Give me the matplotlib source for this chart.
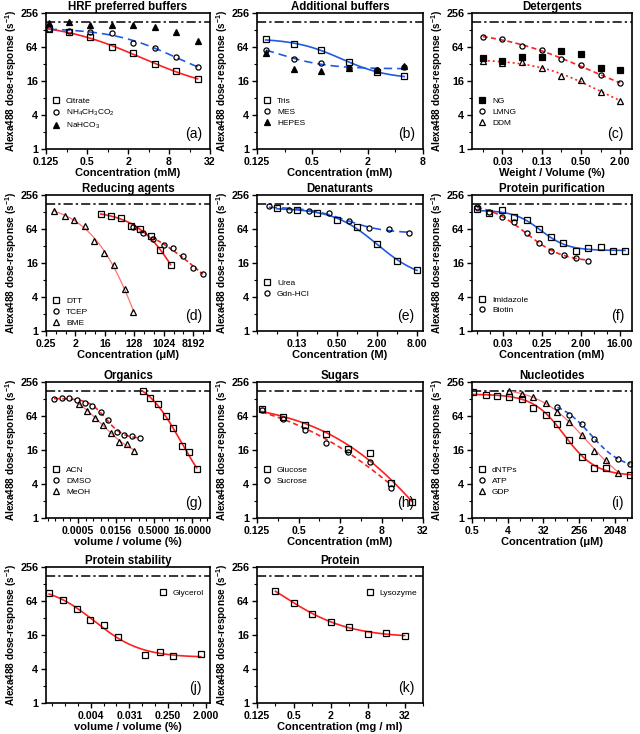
import numpy as np
import matplotlib
matplotlib.use('Agg')
import matplotlib.pyplot as plt
from matplotlib.ticker import NullFormatter

plt.rcParams['font.family'] = ['Liberation Sans', 'DejaVu Sans']
plt.rcParams['mathtext.default'] = 'regular'

# reference (no additive) level
ref_level = 176

# (a) HRF preferred buffers
a_conc = [0.137, 0.27, 0.55, 1.15, 2.4, 5.0, 10.1, 21.0]
a_citrate = [132, 116, 95, 64, 49.5, 31.6, 23.8, 17.4]
a_nh4 = [133, 123, 119, 112, 76, 62, 42.6, 28.3]
a_nahco3 = [168, 175, 159, 159, 157, 146, 116, 81]

# (b) Additional buffers
b_conc = [0.156, 0.3125, 0.625, 1.25, 2.5, 5.0]
b_tris = [87.6, 71.5, 56.6, 35.2, 22.8, 19.4]
b_mes = [56.6, 39.7, 32.9, 27.5, 25.3, 28]
b_hepes = [49.6, 26, 24, 26.9, 25, 29.5]

# (c) Detergents
c_wv = [0.0156, 0.03125, 0.0625, 0.125, 0.25, 0.5, 1.0, 2.0]
c_ng = [40.4, 36.2, 42, 43, 55, 47.5, 27.5, 25]
c_lmng = [97, 88.7, 66.6, 56.6, 38.8, 30.3, 20.2, 14.9]
c_ddm = [36.7, 33.8, 34.3, 27.5, 19.6, 16.7, 10.2, 7.2]

# (d) Reducing agents
d_dtt_conc = [12, 25, 49, 100, 193, 400, 790, 1640]
d_dtt = [116, 110, 99, 73, 64, 48, 27, 14.7]
d_tcep_conc = [120, 240, 480, 1000, 2000, 4000, 8000, 16000]
d_tcep = [68.6, 53.6, 42, 33.4, 29.1, 21.3, 12.9, 10.2]
d_bme_conc = [0.45, 0.96, 1.8, 3.8, 7.6, 15.5, 31, 64, 120]
d_bme = [133, 109, 92.4, 72.4, 39.2, 24.3, 14.7, 5.5, 2.2]

# (e) Denaturants
e_urea_conc = [0.0625, 0.125, 0.25, 0.5, 1, 2, 4, 8]
e_urea = [149, 139, 124, 92, 70, 34.7, 17.6, 12]
e_gdn_conc = [0.047, 0.094, 0.1875, 0.375, 0.75, 1.5, 3, 6]
e_gdn = [165, 139, 133, 121, 89, 66, 63, 55]

# (f) Protein purification
f_imid_conc = [0.0077, 0.0148, 0.029, 0.057, 0.11, 0.21, 0.40, 0.78, 1.5, 2.9, 5.7, 10.8, 20.8]
f_imid = [143, 121, 139, 106, 92, 63, 45.6, 36, 26.4, 29, 30.3, 26, 26]
f_biotin_conc = [0.0079, 0.015, 0.029, 0.057, 0.11, 0.21, 0.41, 0.79, 1.5, 2.9]
f_biotin = [159, 130, 103, 84, 54, 35.7, 26, 22, 20, 17.6]

# (g) Organics
g_acn_vv = [0.178, 0.35, 0.70, 1.45, 2.9, 6.2, 12, 24.6]
g_acn = [176, 135, 103, 63.6, 39.6, 19.2, 14.5, 7.4]
g_dmso_vv = [5.5e-5, 1.1e-4, 2.2e-4, 4.6e-4, 9.2e-4, 1.8e-3, 3.9e-3, 7.8e-3, 0.0167, 0.0335, 0.069, 0.14]
g_dmso = [130, 133, 135, 121, 109, 96, 75, 53.4, 34, 29.7, 28, 26.3]
g_meoh_vv = [5.6e-4, 1.14e-3, 2.3e-3, 4.9e-3, 9.9e-3, 0.0206, 0.041, 0.082]
g_meoh = [103, 80, 59.7, 43.5, 31.8, 22.6, 20.5, 15.6]

# (h) Sugars
h_glucose_conc = [0.147, 0.30, 0.62, 1.27, 2.6, 5.4, 11, 22.5]
h_glucose = [86, 61, 43.5, 31, 16.7, 14.4, 4.15, 1.93]
h_sucrose_conc = [0.147, 0.30, 0.62, 1.27, 2.6, 5.4, 11]
h_sucrose = [80.5, 57, 35.5, 21.4, 15, 9.7, 3.4]

# (i) Nucleotides
i_dntp_conc = [0.52, 1.1, 2.2, 4.4, 9, 17.8, 36.5, 72, 145, 298, 609, 1226, 4970]
i_dntp = [171, 153, 145, 139, 130, 90, 68, 46.6, 24.2, 11.9, 7.7, 7.6, 5.8]
i_atp_conc = [72, 145, 298, 609, 2505, 4970]
i_atp = [92, 68, 45.4, 25.2, 11.1, 9.0]
i_gdp_conc = [4.4, 9, 17.8, 36.5, 72, 145, 298, 609, 1226, 2505]
i_gdp = [176, 155, 139, 109, 75, 50, 29.7, 15.6, 10.8, 6.3]

# (j) Protein stability
j_vv = [4.1e-4, 8.6e-4, 1.85e-3, 3.8e-3, 8.1e-3, 0.017, 0.074, 0.163, 0.34, 1.5]
j_glycerol = [88.6, 65.6, 46.6, 28.9, 24.2, 14.6, 7.1, 7.9, 6.7, 7.4]

# (k) Protein
k_conc = [0.25, 0.5, 1, 2, 4, 8, 16, 32]
k_lysozyme = [95, 59.7, 38, 27, 22.6, 16.8, 17.4, 15.6]

RED = '#ff1f1f'
BLUE = '#1f5ae6'
SALMON = '#ff7070'


def fit_curve(x, y, n=200):
    # sigmoid fit in log2-log2 space (grid over midpoint and slope)
    lx = np.log2(np.asarray(x, float))
    ly = np.log2(np.asarray(y, float))
    cs = np.linspace(lx.min() - 2, lx.max() + 2, 161)[:, None, None]
    hs = np.linspace(0.3, 4, 38)[None, :, None]
    s = 1 / (1 + 2.0 ** (hs * (lx[None, None, :] - cs)))
    sm = s.mean(-1)
    ym = ly.mean()
    var = ((s - sm[..., None]) ** 2).sum(-1)
    cov = ((s - sm[..., None]) * (ly - ym)).sum(-1)
    d = cov / np.maximum(var, 1e-9)
    b = ym - d * sm
    err = ((ly - b[..., None] - d[..., None] * s) ** 2).sum(-1)
    err[var < 1e-6] = np.inf
    i, j = np.unravel_index(np.argmin(err), err.shape)
    xx = np.linspace(lx.min(), lx.max(), n)
    sx = 1 / (1 + 2.0 ** (hs[0, j, 0] * (xx - cs[i, 0, 0])))
    return 2 ** xx, 2 ** (b[i, j] + d[i, j] * sx)


fig = plt.figure(figsize=(6.4, 7.34), dpi=100)
lefts = [46, 257, 472]
widths = [164, 166, 160]
tops = [13, 195, 382, 567]


def make_ax(row, col, title, xlabel, xlim, xt, xtl, letter):
    ax = fig.add_axes([lefts[col] / 640, 1 - (tops[row] + 136) / 734,
                       widths[col] / 640, 136 / 734])
    ax.set_xscale('log', base=2)
    ax.set_yscale('log', base=2)
    ax.set_xlim(*xlim)
    ax.set_ylim(1, 256)
    ax.set_yticks([1, 4, 16, 64, 256], ['1', '4', '16', '64', '256'],
                  fontweight='bold', fontsize=7.8)
    ax.set_yticks([2, 8, 32, 128], minor=True)
    ax.set_xticks(xt, xtl, fontweight='bold', fontsize=7.6)
    p = 2.0 ** np.arange(np.ceil(np.log2(xlim[0])), np.floor(np.log2(xlim[1])) + 1)
    ax.set_xticks([v for v in p if min(abs(np.log2(v) - np.log2(t)) for t in xt) > 0.1], minor=True)
    ax.xaxis.set_minor_formatter(NullFormatter())
    ax.yaxis.set_minor_formatter(NullFormatter())
    ax.tick_params(which='major', direction='out', length=3.5, width=1, pad=2)
    ax.tick_params(which='minor', direction='out', length=2, width=0.8)
    for sp in ax.spines.values():
        sp.set_linewidth(1.2)
    ax.set_title(title, fontweight='bold', fontsize=8.3, pad=2)
    ax.set_xlabel(xlabel, fontweight='bold', fontsize=8, labelpad=1)
    ax.set_ylabel('Alexa488 dose-response (s$^{-1}$)', fontweight='bold', fontsize=7.2, labelpad=1)
    ax.axhline(ref_level, color='k', lw=1.1, dashes=(6, 2, 1.5, 2))
    ax.text(0.95, 0.06, letter, transform=ax.transAxes, ha='right', va='bottom', fontsize=10)
    return ax


def pts(ax, x, y, m, label, filled=False):
    ax.plot(x, y, m, ls='none', mfc='k' if filled else 'none', mec='k',
            ms=3.7, mew=0.9, label=label, zorder=3)


def curve(ax, x, y, color, ls='-', lw=1.2):
    cx, cy = fit_curve(x, y)
    ax.plot(cx, cy, color=color, ls=ls, lw=lw, zorder=2)


def leg(ax, loc='lower left', anchor=(0.0, 0.12)):
    ax.legend(loc=loc, bbox_to_anchor=anchor, frameon=False, fontsize=6,
              handlelength=1, handletextpad=0.7, labelspacing=0.35, borderaxespad=0.3)


conc_mM = 'Concentration (mM)'
conc_uM = 'Concentration (\u03bcM)'

# (a)
ax = make_ax(0, 0, 'HRF preferred buffers', conc_mM, (0.125, 32),
             [0.125, 0.5, 2, 8, 32], ['0.125', '0.5', '2', '8', '32'], '(a)')
curve(ax, a_conc, a_citrate, RED)
curve(ax, a_conc, a_nh4, BLUE, ls=(0, (5, 3)))
pts(ax, a_conc, a_citrate, 's', 'Citrate')
pts(ax, a_conc, a_nh4, 'o', 'NH$_4$CH$_3$CO$_2$')
pts(ax, a_conc, a_nahco3, '^', 'NaHCO$_3$', filled=True)
leg(ax, anchor=(0.0, 0.09))

# (b)
ax = make_ax(0, 1, 'Additional buffers', conc_mM, (0.125, 8),
             [0.125, 0.5, 2, 8], ['0.125', '0.5', '2', '8'], '(b)')
curve(ax, b_conc, b_tris, BLUE)
curve(ax, b_conc, b_mes, BLUE, ls=(0, (5, 3)))
pts(ax, b_conc, b_tris, 's', 'Tris')
pts(ax, b_conc, b_mes, 'o', 'MES')
pts(ax, b_conc, b_hepes, '^', 'HEPES', filled=True)
leg(ax)

# (c)
ax = make_ax(0, 2, 'Detergents', 'Weight / Volume (%)', (2 ** -6.55, 2 ** 1.6),
             [0.03125, 0.125, 0.5, 2], ['0.03', '0.13', '0.50', '2.00'], '(c)')
curve(ax, c_wv, c_lmng, RED, ls=(0, (3, 2)))
curve(ax, c_wv, c_ddm, RED, ls=(0, (1.2, 1.8)))
pts(ax, c_wv, c_ng, 's', 'NG', filled=True)
pts(ax, c_wv, c_lmng, 'o', 'LMNG')
pts(ax, c_wv, c_ddm, '^', 'DDM')
leg(ax)

# (d)
ax = make_ax(1, 0, 'Reducing agents', conc_uM, (0.25, 2 ** 14.7),
             [0.25, 2, 16, 128, 1024, 8192], ['0.25', '2', '16', '128', '1024', '8192'], '(d)')
curve(ax, d_dtt_conc, d_dtt, RED)
curve(ax, d_tcep_conc, d_tcep, RED, ls=(0, (2.5, 1.5)))
curve(ax, d_bme_conc, d_bme, SALMON, lw=0.9)
pts(ax, d_dtt_conc, d_dtt, 's', 'DTT')
pts(ax, d_tcep_conc, d_tcep, 'o', 'TCEP')
pts(ax, d_bme_conc, d_bme, '^', 'BME')
leg(ax, anchor=(0.0, -0.01))

# (e)
ax = make_ax(1, 1, 'Denaturants', 'Concentration (M)', (2 ** -5, 2 ** 3.3),
             [0.125, 0.5, 2, 8], ['0.13', '0.50', '2.00', '8.00'], '(e)')
curve(ax, e_urea_conc, e_urea, BLUE)
curve(ax, e_gdn_conc, e_gdn, BLUE, ls=(0, (5, 3)))
pts(ax, e_urea_conc, e_urea, 's', 'Urea')
pts(ax, e_gdn_conc, e_gdn, 'o', 'Gdn-HCl')
leg(ax, anchor=(0.0, 0.2))

# (f)
ax = make_ax(1, 2, 'Protein purification', conc_mM, (2 ** -7.38, 2 ** 4.92),
             [0.03125, 0.25, 2, 16], ['0.03', '0.25', '2.00', '16.00'], '(f)')
curve(ax, f_imid_conc, f_imid, BLUE)
curve(ax, f_biotin_conc, f_biotin, RED, ls=(0, (3, 2)))
pts(ax, f_imid_conc, f_imid, 's', 'Imidazole')
pts(ax, f_biotin_conc, f_biotin, 'o', 'Biotin')
leg(ax, anchor=(0.0, 0.08))

# (g)
ax = make_ax(2, 0, 'Organics', 'volume / volume (%)', (2 ** -15.2, 2 ** 6.37),
             [2 ** -11, 2 ** -6, 2 ** -1, 16], ['0.0005', '0.0156', '0.5000', '16.0000'], '(g)')
curve(ax, g_acn_vv, g_acn, RED)
curve(ax, g_dmso_vv, g_dmso, RED, ls=(0, (3, 2)))
curve(ax, g_meoh_vv, g_meoh, SALMON, lw=0.9)
pts(ax, g_acn_vv, g_acn, 's', 'ACN')
pts(ax, g_dmso_vv, g_dmso, 'o', 'DMSO')
pts(ax, g_meoh_vv, g_meoh, '^', 'MeOH')
leg(ax)

# (h)
ax = make_ax(2, 1, 'Sugars', conc_mM, (0.125, 32),
             [0.125, 0.5, 2, 8, 32], ['0.125', '0.5', '2', '8', '32'], '(h)')
curve(ax, h_glucose_conc, h_glucose, RED)
curve(ax, h_sucrose_conc, h_sucrose, RED, ls=(0, (3, 2)))
pts(ax, h_glucose_conc, h_glucose, 's', 'Glucose')
pts(ax, h_sucrose_conc, h_sucrose, 'o', 'Sucrose')
leg(ax, anchor=(0.0, 0.2))

# (i)
ax = make_ax(2, 2, 'Nucleotides', conc_uM, (0.5, 2 ** 12.43),
             [0.5, 4, 32, 256, 2048], ['0.5', '4', '32', '256', '2048'], '(i)')
curve(ax, i_dntp_conc, i_dntp, RED)
curve(ax, i_atp_conc, i_atp, BLUE, ls=(0, (3, 2)))
curve(ax, i_gdp_conc, i_gdp, SALMON, lw=0.9)
pts(ax, i_dntp_conc, i_dntp, 's', 'dNTPs')
pts(ax, i_atp_conc, i_atp, 'o', 'ATP')
pts(ax, i_gdp_conc, i_gdp, '^', 'GDP')
leg(ax)

# (j)
ax = make_ax(3, 0, 'Protein stability', 'volume / volume (%)', (2 ** -11.5, 2 ** 1.3),
             [2 ** -8, 2 ** -5, 0.25, 2], ['0.004', '0.031', '0.250', '2.000'], '(j)')
curve(ax, j_vv, j_glycerol, RED)
pts(ax, j_vv, j_glycerol, 's', 'Glycerol')
leg(ax, loc='upper right', anchor=(1.0, 0.88))

# (k)
ax = make_ax(3, 1, 'Protein', 'Concentration (mg / ml)', (0.125, 64),
             [0.125, 0.5, 2, 8, 32], ['0.125', '0.5', '2', '8', '32'], '(k)')
curve(ax, k_conc, k_lysozyme, RED)
pts(ax, k_conc, k_lysozyme, 's', 'Lysozyme')
leg(ax, loc='upper right', anchor=(1.0, 0.88))

fig.savefig('out.png', dpi=100)
